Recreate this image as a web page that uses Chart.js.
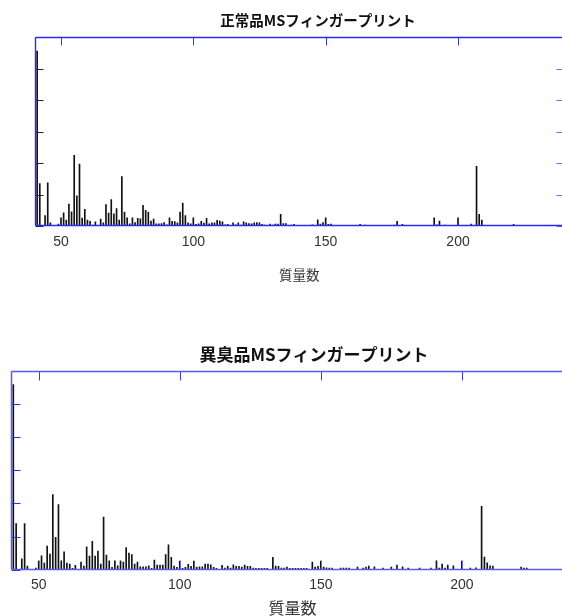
<!DOCTYPE html>
<html><head><meta charset="utf-8">
<script src="https://cdn.jsdelivr.net/npm/chart.js@4.4.1/dist/chart.umd.min.js"></script>
<style>
html,body{margin:0;padding:0;background:#fff;overflow:hidden;width:562px;height:616px;}
canvas{position:absolute;left:0;}
#c1{top:0;}
#c2{top:300px;}
</style></head><body>
<canvas id="c1" width="640" height="300" style="width:640px;height:300px"></canvas>
<canvas id="c2" width="660" height="318" style="width:660px;height:318px"></canvas>
<script>
// ---- data ----
const chartTitles = ['正常品MSフィンガープリント', '異臭品MSフィンガープリント'];
const axisTitle = '質量数';
const xTickLabels = [50, 100, 150, 200];
const yTickValues = [0, 1, 2, 3, 4, 5, 6];
const xRange = [40, 240];
const yRange = [0, 6];

const normalMasses = [41,42,44,45,46,49,50,51,52,53,54,55,56,57,58,59,60,61,62,63,65,66,67,68,69,70,71,72,73,74,75,76,77,78,79,80,81,82,83,84,85,86,87,88,89,90,91,92,93,94,95,96,97,98,99,100,101,102,103,104,105,106,107,108,109,110,111,112,113,115,116,117,118,119,120,121,122,123,124,125,126,127,128,129,130,131,132,133,134,135,137,138,139,140,141,145,147,148,149,150,151,152,153,154,157,163,165,166,176,177,179,191,192,193,195,200,203,205,207,208,209,211,221,222];
const normalIntensity = [5.56,1.35,0.33,1.37,0.10,0.06,0.26,0.42,0.19,0.70,0.45,2.25,0.96,1.97,0.25,0.53,0.19,0.15,0.03,0.13,0.22,0.10,0.68,0.41,0.84,0.39,0.55,0.19,1.57,0.44,0.26,0.07,0.26,0.11,0.24,0.23,0.66,0.50,0.44,0.16,0.22,0.07,0.07,0.08,0.11,0.04,0.26,0.15,0.14,0.10,0.44,0.73,0.33,0.10,0.07,0.26,0.05,0.07,0.15,0.09,0.24,0.07,0.10,0.10,0.18,0.16,0.13,0.04,0.05,0.10,0.04,0.10,0.03,0.13,0.10,0.08,0.07,0.10,0.11,0.10,0.05,0.03,0.02,0.06,0.03,0.06,0.06,0.37,0.08,0.08,0.03,0.05,0.02,0.02,0.02,0.04,0.20,0.06,0.11,0.26,0.05,0.06,0.02,0.02,0.02,0.05,0.03,0.02,0.03,0.15,0.05,0.26,0.04,0.16,0.03,0.26,0.02,0.06,1.90,0.37,0.19,0.02,0.05,0.02];

const offMasses = [41,42,44,45,46,49,50,51,52,53,54,55,56,57,58,59,60,61,62,63,65,66,67,68,69,70,71,72,73,74,75,76,77,78,79,80,81,82,83,84,85,86,87,88,89,90,91,92,93,94,95,96,97,98,99,100,101,102,103,104,105,106,107,108,109,110,111,112,113,115,116,117,118,119,120,121,122,123,124,125,126,127,128,129,130,131,133,134,135,136,137,138,139,140,141,142,143,144,145,147,148,149,150,151,152,153,154,157,158,159,160,163,165,166,167,169,172,175,177,179,181,185,189,191,192,193,194,195,197,200,203,205,207,208,209,210,211,221,222,223];
const offIntensity = [5.59,1.39,0.33,1.39,0.11,0.05,0.26,0.42,0.20,0.71,0.47,2.27,0.98,1.97,0.27,0.54,0.20,0.17,0.04,0.13,0.23,0.11,0.69,0.41,0.86,0.41,0.56,0.17,1.59,0.44,0.27,0.07,0.27,0.12,0.27,0.23,0.67,0.50,0.46,0.17,0.23,0.09,0.09,0.09,0.12,0.04,0.29,0.14,0.14,0.14,0.46,0.75,0.37,0.11,0.07,0.26,0.04,0.07,0.16,0.10,0.26,0.08,0.09,0.09,0.17,0.17,0.15,0.07,0.04,0.13,0.05,0.11,0.05,0.15,0.10,0.10,0.08,0.14,0.10,0.10,0.05,0.04,0.04,0.04,0.04,0.04,0.37,0.11,0.10,0.05,0.05,0.08,0.04,0.04,0.04,0.04,0.04,0.04,0.04,0.23,0.08,0.10,0.26,0.08,0.06,0.05,0.05,0.05,0.05,0.05,0.05,0.08,0.05,0.08,0.11,0.09,0.05,0.08,0.14,0.09,0.05,0.05,0.05,0.27,0.05,0.17,0.05,0.14,0.12,0.26,0.05,0.06,1.91,0.38,0.21,0.12,0.11,0.08,0.05,0.05];

// ---- drawing ----
const frameTicks = {
  id: 'frameTicks',
  afterDatasetsDraw(chart, args, o) {
    const {ctx, chartArea: a, scales: {x, y}} = chart;
    const L = Math.round(a.left) + 0.5, R = Math.round(a.right) + 0.5;
    const T = Math.round(a.top) + 0.5, B = Math.round(a.bottom) - 0.5;
    ctx.save();
    ctx.lineWidth = 1;
    const seg = (c, pts) => { ctx.strokeStyle = c; ctx.beginPath(); pts.forEach(p => { ctx.moveTo(p[0], p[1]); ctx.lineTo(p[2], p[3]); }); ctx.stroke(); };
    if (o.left) seg(o.left, yTickValues.map(v => { const py = Math.round(y.getPixelForValue(v)) + 0.5; return [L, py, L + o.len, py]; }));
    if (o.right) seg(o.right, yTickValues.map(v => { const py = Math.round(y.getPixelForValue(v)) + 0.5; return [R - o.len, py, R, py]; }));
    if (o.top) seg(o.top, xTickLabels.map(v => { const px = Math.round(x.getPixelForValue(v)) + 0.5; return [px, T, px, T + o.len]; }));
    if (o.bottom) seg(o.bottom, xTickLabels.map(v => { const px = Math.round(x.getPixelForValue(v)) + 0.5; return [px, B, px, B - o.len]; }));
    ctx.lineWidth = o.frameWidth;
    seg(o.frame, [[L, B, L, T], [L, T, R, T], [R, T, R, B], [L, B, R, B]]);
    ctx.restore();
  }
};

function makeChart(id, title, masses, values, g) {
  return new Chart(document.getElementById(id), {
    type: 'bar',
    data: {
      datasets: [{
        data: masses.map((m, i) => ({x: m, y: values[i]})),
        backgroundColor: '#111',
        borderWidth: 0,
        barThickness: 1
      }]
    },
    options: {
      responsive: false,
      animation: false,
      events: [],
      layout: {padding: {left: g.padLeft, right: g.padRight, top: 0, bottom: 0}},
      plugins: {
        legend: {display: false},
        tooltip: {enabled: false},
        title: {
          display: true, text: title, color: '#111',
          font: {family: '"Noto Sans CJK JP", sans-serif', size: g.titleSize, weight: 'bold', lineHeight: 1.2},
          padding: {top: g.titleTop, bottom: g.titleBottom}
        },
        frameTicks: g.ticks
      },
      scales: {
        x: {
          type: 'linear', min: xRange[0], max: xRange[1], offset: false,
          grid: {display: false, drawTicks: false},
          border: {display: false},
          afterBuildTicks: s => { s.ticks = xTickLabels.map(v => ({value: v})); },
          afterFit: s => { s.height = g.xHeight; },
          ticks: {color: '#333', padding: g.labelPad, maxRotation: 0,
                  font: {family: '"Liberation Sans", Arial, sans-serif', size: 14}},
          title: {display: true, text: axisTitle, color: '#333',
                  font: {family: '"Noto Sans CJK JP", sans-serif', size: g.axisTitleSize, lineHeight: 1.2},
                  padding: {top: 0, bottom: g.axisTitleBottom}}
        },
        y: {
          position: 'right', min: yRange[0], max: yRange[1],
          grid: {display: false, drawTicks: false},
          border: {display: false},
          ticks: {display: false},
          afterFit: s => { s.width = g.yWidth; }
        }
      }
    },
    plugins: [frameTicks]
  });
}

makeChart('c1', chartTitles[0], normalMasses, normalIntensity, {
  padLeft: 34.5, padRight: 38.5, yWidth: 37.6, titleSize: 14.5,
  titleTop: 11.3, titleBottom: 8.6,
  xHeight: 74, labelPad: 7.6, axisTitleSize: 13.5, axisTitleBottom: 17,
  ticks: {len: 8, frame: '#2a2af5', frameWidth: 1.4, left: '#222', right: '#6a6af0', top: '#3a3ad8', bottom: null}
});
makeChart('c2', chartTitles[1], offMasses, offIntensity, {
  padLeft: 10.5, padRight: 42.5, yWidth: 42.8, titleSize: 17,
  titleTop: 44.8, titleBottom: 5.8,
  xHeight: 48.3, labelPad: 6.9, axisTitleSize: 16, axisTitleBottom: 0,
  ticks: {len: 9, frame: '#5a5af0', frameWidth: 1.5, left: '#2a2ae0', right: '#5a5af0', top: '#3a3ae0', bottom: '#6a6af0'}
});
</script>
</body></html>
